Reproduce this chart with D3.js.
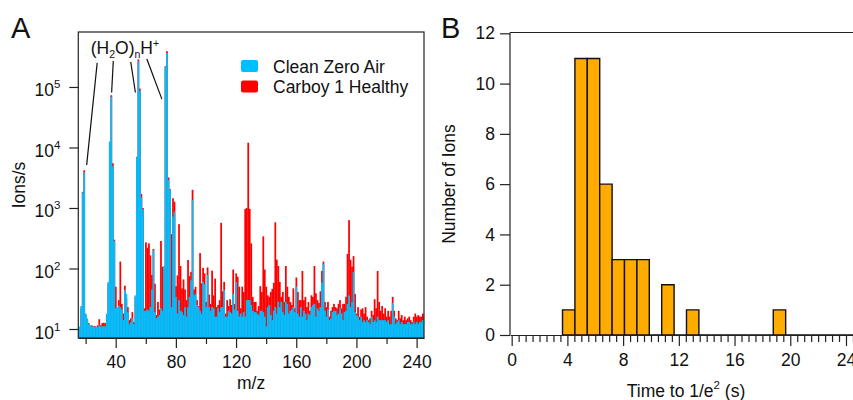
<!DOCTYPE html>
<html>
<head>
<meta charset="utf-8">
<script src="https://cdn.jsdelivr.net/npm/d3@7"></script>
<style>
  body { margin: 0; background: #fff; }
  text { font-family: 'Liberation Sans', Arial, sans-serif; fill: #111; }
  .axis path, .axis line { stroke: #222; stroke-width: 1.2; }
</style>
</head>
<body>
<div id="draw"></div>
<script>
// ---- panel A: mass spectrum, one bar per integer m/z (15..245)
const mzValues = d3.range(15, 246)

const cleanZeroAir = [
  11, 11, 24, 1800, 3900, 18, 15, 12, 11.5, 11,
  11, 10.8, 11, 10.8, 11.5, 11, 11, 11.2, 11, 18,
  60, 12600, 69000, 4900, 285, 22, 23, 24, 23, 21,
  14, 44, 38, 19, 12, 13, 15, 12, 36, 6900,
  265000, 87000, 1500, 950, 20, 20, 21, 20, 23, 45,
  200, 19, 15, 16, 17, 22, 20, 110, 215000, 365000,
  2900, 2000, 23, 720, 870, 34, 18, 30, 20, 19,
  17, 23, 16, 23, 34, 64, 1350, 36, 38, 25,
  23, 20, 18, 60, 55, 23, 78, 23, 20, 23,
  22, 16, 16, 22, 19, 23, 23, 44, 16, 16,
  20, 19, 18, 38, 21, 60, 20, 16, 18, 16,
  19, 16, 30, 30, 30, 25, 20, 19, 19, 18,
  17, 20, 20, 19, 16, 11, 23, 25, 17, 14,
  20, 23, 18, 28, 23, 28, 19, 17, 28, 26,
  18, 20, 21, 23, 19, 50, 18, 16, 23, 16,
  20, 18, 14, 18, 17, 23, 25, 26, 16, 22,
  20, 23, 58, 120, 20, 16, 21, 14, 15, 19,
  20, 20, 17, 18, 22, 18, 14, 19, 20, 26,
  36, 23, 28, 88, 19, 17, 16, 14, 16, 13,
  14, 13, 14, 13, 12, 16, 13, 14, 13, 16,
  14, 14, 14, 14, 14, 13, 14, 12, 12, 27,
  16, 12, 13, 14, 12, 13, 12, 12, 12, 13,
  13, 12, 12, 13, 12, 13, 12, 13, 13, 14,
  14
]

const carboyHealthy = [
  10, 10, 22, 1850, 4200, 17, 14, 12.5, 11, 11.5,
  11, 11.2, 10.8, 11.5, 14.5, 11.5, 12.5, 12.7, 12.5, 17,
  55, 12000, 73000, 5500, 300, 50, 21, 30, 130, 26,
  18, 52, 32, 23, 14, 15, 19, 13, 34, 7000,
  285000, 94000, 1700, 1000, 22, 270, 220, 260, 165, 78,
  210, 56, 17, 28, 21, 285, 107, 100, 220000, 390000,
  3200, 2050, 370, 1450, 1270, 51, 77, 540, 110, 47,
  66, 45, 30, 138, 75, 88, 2000, 45, 50, 30,
  24, 180, 57, 102, 83, 28, 104, 37, 26, 92,
  36, 68, 23, 25, 30, 570, 42, 60, 18, 30,
  24, 31, 25, 96, 26, 83, 73, 50, 22, 50,
  41, 960, 1000, 12000, 970, 260, 34, 28, 28, 20,
  24, 51, 41, 340, 96, 50, 36, 34, 41, 46,
  58, 580, 140, 110, 60, 34, 41, 28, 110, 50,
  34, 28, 25, 47, 22, 71, 41, 30, 30, 91,
  30, 34, 23, 28, 20, 36, 34, 110, 39, 30,
  27, 42, 91, 130, 28, 23, 28, 16, 20, 23,
  26, 23, 22, 26, 30, 22, 26, 26, 34, 174,
  630, 140, 107, 160, 38, 18, 23, 16, 21, 22,
  18, 23, 16, 14, 15, 20, 17, 31, 22, 91,
  28, 20, 24, 18, 22, 16, 20, 16, 20, 34,
  20, 15, 14, 20, 15, 17, 14, 16, 14, 15,
  16, 14, 13, 16, 18, 16, 17, 16, 16, 18,
  16
]

const logTicks = [10, 100, 1000, 10000, 100000]
const mzMajorTicks = [40, 80, 120, 160, 200, 240]
const mzMinorTicks = [20, 60, 100, 140, 180, 220]

// water cluster annotation: [m/z, ions/s] -> [m/z, ions/s]
const clusterLines = [
  [27.7, 250000, 20.7, 5100],
  [38.4, 270000, 37.3, 81000],
  [50.0, 260000, 53.1, 81000],
  [60.7, 290000, 70.7, 63000]
]
const clusterLabelAt = [23.4, 355000]

// ---- panel B: histogram of decay times
const binStart = 3.65
const binWidth = 0.89
const ionCounts = [1, 11, 11, 6, 3, 3, 3, 0, 2, 0, 1, 0, 0, 0, 0, 0, 0, 1, 0, 0, 0, 0, 0, 0]
const countTicks = [0, 2, 4, 6, 8, 10, 12]
const timeMajorTicks = [0, 4, 8, 12, 16, 20, 24]
const timeMinorTicks = d3.range(0, 25.5, 0.5).filter(function (t) { return t % 4 !== 0 })

const colors = { clean: '#00bfff', carboy: '#ff0000', hist: '#ffab00' }
const fontSize = '17.5px'

let svg = d3.select('#draw')
  .append('svg')
  .attr('width', 853)
  .attr('height', 400)

// ================= Panel A =================
let a = { left: 78.3, right: 424, top: 32, bottom: 338 }

let xA = d3.scaleLinear().domain([15.15, 244.9]).range([a.left, a.right])
let yA = d3.scaleLog().domain([7.1, 8.1e5]).range([a.bottom, a.top])

svg.append('clipPath')
  .attr('id', 'clipA')
  .append('rect')
  .attr('x', a.left)
  .attr('y', a.top)
  .attr('width', a.right - a.left)
  .attr('height', a.bottom - a.top)

let bars = svg.append('g').attr('clip-path', 'url(#clipA)')

function drawSeries (values, color) {
  bars.append('g')
    .selectAll('rect')
    .data(mzValues)
    .enter().append('rect')
    .attr('x', function (m) { return xA(m - 0.5) })
    .attr('width', function (m) { return xA(m + 0.5) - xA(m - 0.5) + 0.25 })
    .attr('y', function (m, i) { return yA(values[i]) })
    .attr('height', function (m, i) { return a.bottom - yA(values[i]) })
    .style('fill', color)
}
drawSeries(carboyHealthy, colors.carboy)
drawSeries(cleanZeroAir, colors.clean)

// frame
svg.append('rect')
  .attr('x', a.left)
  .attr('y', a.top)
  .attr('width', a.right - a.left)
  .attr('height', a.bottom - a.top)
  .style('fill', 'none')
  .style('stroke', '#222')
  .style('stroke-width', 1.2)

// y axis (log)
let yAxisA = svg.append('g')
  .attr('class', 'axis')
  .attr('transform', 'translate(' + a.left + ',0)')
  .call(d3.axisLeft(yA).tickValues(logTicks).tickSize(9).tickSizeOuter(0).tickFormat(''))
yAxisA.select('.domain').remove()
yAxisA.selectAll('.tick').each(function (d) {
  let t = d3.select(this).append('text')
    .attr('x', -18)
    .attr('y', 9)
    .attr('text-anchor', 'end')
    .style('font-size', fontSize)
  t.append('tspan').text('10')
  t.append('tspan')
    .attr('dy', -8)
    .style('font-size', '11.5px')
    .text(Math.round(Math.log10(d)))
})

// x axis
let xAxisA = svg.append('g')
  .attr('class', 'axis')
  .attr('transform', 'translate(0,' + a.bottom + ')')
  .call(d3.axisBottom(xA).tickValues(mzMajorTicks).tickSize(10).tickSizeOuter(0).tickPadding(8))
xAxisA.selectAll('text').style('font-size', fontSize).attr('fill', '#111')
svg.append('g')
  .attr('class', 'axis')
  .attr('transform', 'translate(0,' + a.bottom + ')')
  .call(d3.axisBottom(xA).tickValues(mzMinorTicks).tickSize(6).tickSizeOuter(0).tickFormat(''))
  .select('.domain').remove()

// axis labels
svg.append('text')
  .attr('x', (a.left + a.right) / 2)
  .attr('y', 389)
  .attr('text-anchor', 'middle')
  .style('font-size', fontSize)
  .text('m/z')

svg.append('text')
  .attr('transform', 'translate(25,' + (a.top + a.bottom) / 2 + ') rotate(-90)')
  .attr('text-anchor', 'middle')
  .style('font-size', fontSize)
  .text('Ions/s')

// water cluster annotation
svg.append('g')
  .selectAll('line')
  .data(clusterLines)
  .enter().append('line')
  .attr('x1', function (d) { return xA(d[0]) })
  .attr('y1', function (d) { return yA(d[1]) })
  .attr('x2', function (d) { return xA(d[2]) })
  .attr('y2', function (d) { return yA(d[3]) })
  .style('stroke', '#111')
  .style('stroke-width', 1.2)

let cl = svg.append('text')
  .attr('x', xA(clusterLabelAt[0]))
  .attr('y', yA(clusterLabelAt[1]))
  .style('font-size', fontSize)
cl.append('tspan').text('(H')
cl.append('tspan').attr('dy', 4).style('font-size', '10.5px').text('2')
cl.append('tspan').attr('dy', -4).text('O)')
cl.append('tspan').attr('dy', 4).style('font-size', '10.5px').text('n')
cl.append('tspan').attr('dy', -4).text('H')
cl.append('tspan').attr('dy', -7).style('font-size', '10.5px').text('+')

// legend
let legendItems = [
  { name: 'Clean Zero Air', color: colors.clean },
  { name: 'Carboy 1 Healthy', color: colors.carboy }
]
let legend = svg.selectAll('.legend')
  .data(legendItems)
  .enter().append('g')
  .attr('class', 'legend')
  .attr('transform', function (d, i) { return 'translate(241,' + (60 + i * 20.5) + ')' })

legend.append('rect')
  .attr('width', 17)
  .attr('height', 12)
  .attr('rx', 2)
  .style('fill', function (d) { return d.color })

legend.append('text')
  .attr('x', 32)
  .attr('y', 12.5)
  .style('font-size', fontSize)
  .text(function (d) { return d.name })

// panel letter
svg.append('text')
  .attr('x', 11)
  .attr('y', 38)
  .style('font-size', '29px')
  .text('A')

// ================= Panel B =================
let b = { left: 510, top: 32.5, bottom: 335 }

let xB = d3.scaleLinear().domain([-0.12, 25.6]).range([b.left, b.left + 25.72 * 13.93])
let yB = d3.scaleLinear().domain([0, 12]).range([b.bottom, 33.3])

// histogram bins (zero bins leave a line on the baseline)
svg.append('g')
  .selectAll('path')
  .data(ionCounts)
  .enter().append('path')
  .attr('d', function (c, i) {
    let x0 = xB(binStart + i * binWidth)
    let x1 = xB(binStart + (i + 1) * binWidth)
    return 'M' + x0 + ',' + yB(0) + 'V' + yB(c) + 'H' + x1 + 'V' + yB(0) + 'Z'
  })
  .style('fill', colors.hist)
  .style('stroke', '#111')
  .style('stroke-width', 1.4)

// top frame line
svg.append('line')
  .attr('x1', b.left)
  .attr('x2', 860)
  .attr('y1', b.top)
  .attr('y2', b.top)
  .style('stroke', '#222')
  .style('stroke-width', 1.2)

let yAxisB = svg.append('g')
  .attr('class', 'axis')
  .attr('transform', 'translate(' + b.left + ',0)')
  .call(d3.axisLeft(yB).tickValues(countTicks).tickSize(10).tickSizeOuter(0).tickPadding(5))
yAxisB.select('.domain').attr('d', 'M0,' + b.bottom + 'V' + b.top)
yAxisB.selectAll('text').style('font-size', fontSize).attr('fill', '#111')

let xAxisB = svg.append('g')
  .attr('class', 'axis')
  .attr('transform', 'translate(0,' + b.bottom + ')')
  .call(d3.axisBottom(xB).tickValues(timeMajorTicks).tickSize(11).tickSizeOuter(0).tickPadding(8))
xAxisB.selectAll('text').style('font-size', fontSize).attr('fill', '#111')
svg.append('g')
  .attr('class', 'axis')
  .attr('transform', 'translate(0,' + b.bottom + ')')
  .call(d3.axisBottom(xB).tickValues(timeMinorTicks).tickSize(7).tickSizeOuter(0).tickFormat(''))
  .select('.domain').remove()

let tl = svg.append('text')
  .attr('x', 686)
  .attr('y', 397)
  .attr('text-anchor', 'middle')
  .style('font-size', fontSize)
tl.append('tspan').text('Time to 1/e')
tl.append('tspan').attr('dy', -8).style('font-size', '11.5px').text('2')
tl.append('tspan').attr('dy', 8).text(' (s)')

svg.append('text')
  .attr('transform', 'translate(455,' + (33 + b.bottom) / 2 + ') rotate(-90)')
  .attr('text-anchor', 'middle')
  .style('font-size', fontSize)
  .text('Number of Ions')

svg.append('text')
  .attr('x', 441)
  .attr('y', 38)
  .style('font-size', '29px')
  .text('B')
</script>
</body>
</html>
